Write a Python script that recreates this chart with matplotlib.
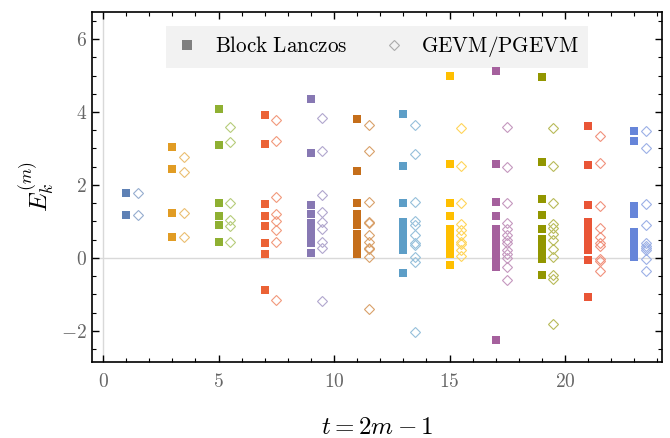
import matplotlib
matplotlib.use("Agg")
import matplotlib.pyplot as plt
import matplotlib.colors as mcolors
from matplotlib.ticker import MultipleLocator, FuncFormatter
from matplotlib.lines import Line2D

plt.rcParams['mathtext.fontset'] = 'cm'
plt.rcParams['font.family'] = 'serif'
plt.rcParams['font.serif'] = ['DejaVu Serif']

# time slices t = 2m - 1
t_vals = [1, 3, 5, 7, 9, 11, 13, 15, 17, 19, 21, 23]

# Mathematica default palette (one colour per t)
colors = ["#5E81B5", "#E19C24", "#8FB032", "#EB6235", "#8778B3", "#C56E1A",
          "#5D9EC7", "#FFBF00", "#A5609D", "#929600", "#E95536", "#6685D9"]

# Block Lanczos eigenvalues (squares)
lanczos = [
    [1.79, 1.18],
    [3.05, 2.44, 1.24, 0.58],
    [4.08, 3.10, 1.51, 1.15, 0.91, 0.43],
    [3.92, 3.13, 1.49, 1.15, 0.89, 0.42, 0.12, -0.87],
    [4.35, 2.89, 1.45, 1.20, 0.95, 0.82, 0.70, 0.55, 0.42, 0.14],
    [3.82, 2.39, 1.52, 1.20, 1.05, 0.90, 0.65, 0.50, 0.35, 0.20, 0.10],
    [3.95, 2.51, 1.52, 0.99, 0.85, 0.70, 0.55, 0.40, 0.30, 0.22, -0.40],
    [4.99, 2.58, 1.52, 1.16, 0.80, 0.65, 0.50, 0.40, 0.30, 0.20, 0.10, -0.19],
    [5.13, 2.58, 1.53, 1.15, 0.80, 0.65, 0.50, 0.40, 0.30, 0.20, 0.10, 0.0,
     -0.10, -0.25, -2.25],
    [4.97, 2.63, 1.61, 1.19, 0.80, 0.52, 0.40, 0.30, 0.20, 0.10, -0.03, -0.46],
    [3.62, 2.56, 1.46, 0.99, 0.85, 0.70, 0.55, 0.40, 0.30, 0.22, -0.05, -1.06],
    [3.49, 3.21, 1.43, 1.20, 0.71, 0.60, 0.50, 0.40, 0.30, 0.20, 0.10, 0.03],
]

# GEVM/PGEVM eigenvalues (diamonds)
gevm = [
    [1.79, 1.18],
    [2.78, 2.36, 1.24, 0.58],
    [3.60, 3.18, 1.52, 1.03, 0.89, 0.45],
    [3.79, 3.21, 1.68, 1.21, 1.01, 0.78, 0.45, -1.15],
    [3.84, 2.94, 1.73, 1.27, 0.98, 0.79, 0.45, 0.28, -1.17],
    [3.64, 2.94, 1.53, 0.99, 0.95, 0.64, 0.43, 0.28, 0.24, 0.03, -1.39],
    [3.64, 2.85, 1.53, 1.01, 0.90, 0.64, 0.40, 0.36, 0.04, -0.10, -2.03],
    [3.56, 2.53, 1.52, 0.92, 0.77, 0.62, 0.45, 0.38, 0.21, 0.06],
    [3.60, 2.50, 1.51, 0.97, 0.79, 0.63, 0.49, 0.42, 0.22, 0.12, 0.01, -0.24,
     -0.59],
    [3.57, 2.51, 1.52, 0.92, 0.81, 0.66, 0.49, 0.24, 0.04, -0.47, -0.58, -1.80],
    [3.34, 2.59, 1.42, 0.82, 0.57, 0.40, 0.33, -0.03, -0.07, -0.35],
    [3.49, 3.00, 1.49, 0.90, 0.42, 0.33, 0.28, 0.22, -0.03, -0.37],
]


def lighter(c, f=0.35):
    r, g, b = mcolors.to_rgb(c)
    return (r + (1 - r) * f, g + (1 - g) * f, b + (1 - b) * f)


fig = plt.figure(figsize=(6.7, 4.38), dpi=100)
ax = fig.add_axes([92 / 670, 1 - 362 / 438, 570 / 670, 350 / 438])

ax.axhline(0, color="#d9d9d9", lw=1.0, zorder=0)
ax.axvline(0, color="#d9d9d9", lw=1.0, zorder=0)

for t, c, ys_l, ys_g in zip(t_vals, colors, lanczos, gevm):
    ax.plot([t] * len(ys_l), ys_l, "s", color=c, markersize=6.4, mew=0,
            linestyle="none", zorder=3)
    ax.plot([t + 0.5] * len(ys_g), ys_g, "D", markerfacecolor="none",
            markeredgecolor=lighter(c), markersize=5, mew=0.8,
            linestyle="none", zorder=3)

ax.set_xlim(-0.48, 24.2)
ax.set_ylim(-2.85, 6.74)

ax.xaxis.set_major_locator(MultipleLocator(5))
ax.xaxis.set_minor_locator(MultipleLocator(1))
ax.yaxis.set_major_locator(MultipleLocator(2))
ax.yaxis.set_minor_locator(MultipleLocator(0.5))
fmt = FuncFormatter(lambda v, p: r"$%d$" % round(v))
ax.xaxis.set_major_formatter(fmt)
ax.yaxis.set_major_formatter(fmt)
ax.tick_params(which="both", direction="in", top=True, right=True,
               labelsize=14, labelcolor="#666666")
ax.tick_params(axis="x", pad=8)
ax.tick_params(which="major", length=5, width=1)
ax.tick_params(which="minor", length=3, width=0.8)
for s in ax.spines.values():
    s.set_linewidth(1.2)

ax.set_xlabel(r"$t = 2m-1$", fontsize=18, labelpad=18)
ax.set_ylabel(r"$E_k^{(m)}$", fontsize=18, labelpad=4)

handles = [
    Line2D([], [], marker="s", color="#808080", linestyle="none",
           markersize=7, mew=0),
    Line2D([], [], marker="D", markerfacecolor="none",
           markeredgecolor="#aaaaaa", linestyle="none", markersize=5.5,
           mew=0.8),
]
leg = ax.legend(handles, [r"$\mathrm{Block\ Lanczos}$", r"$\mathrm{GEVM/PGEVM}$"],
                loc="upper center", bbox_to_anchor=(0.5, 0.96), ncol=2,
                fontsize=15.2, frameon=True, fancybox=False,
                columnspacing=1.6, handletextpad=0.7, borderpad=0.4,
                handlelength=1.2, borderaxespad=0)
leg.get_frame().set_facecolor("#f2f2f2")
leg.get_frame().set_edgecolor("none")
leg.get_frame().set_alpha(1)
leg.set_zorder(2)

fig.savefig("out.png", dpi=100)
